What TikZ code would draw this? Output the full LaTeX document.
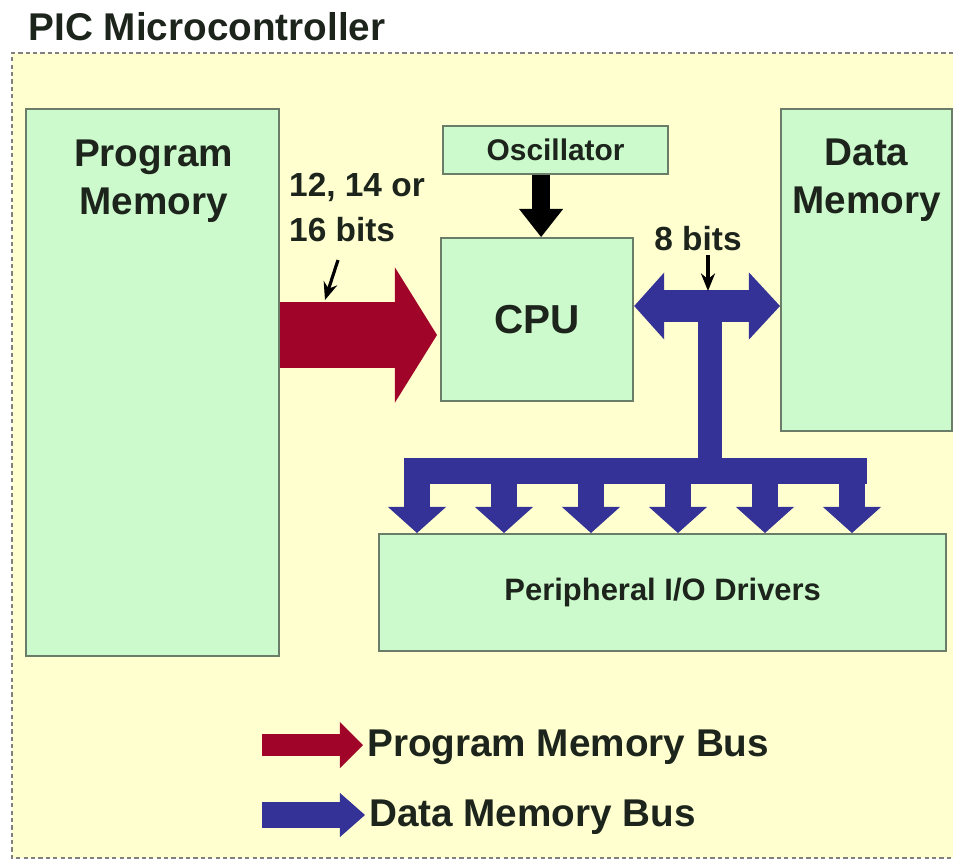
\documentclass[tikz,border=0pt]{standalone}
\usepackage{fontspec}
\setmainfont{Liberation Sans}
\usetikzlibrary{positioning,calc,arrows.meta}

\definecolor{bgyellow}{RGB}{255,255,208}
\definecolor{boxgreen}{RGB}{204,250,204}
\definecolor{boxline}{RGB}{105,125,105}
\definecolor{progred}{RGB}{160,4,40}
\definecolor{datablue}{RGB}{52,50,150}
\definecolor{txtdark}{RGB}{28,36,28}

\tikzset{
  block/.style={draw=boxline,fill=boxgreen,line width=0.6pt,inner sep=0pt,anchor=north west},
  bigtext/.style={font=\bfseries\fontsize{11}{13.7}\selectfont,text=txtdark,align=center,inner sep=1pt},
  smalltext/.style={font=\bfseries\fontsize{9.5}{12.8}\selectfont,text=txtdark,align=left,inner sep=1pt},
  pbus/.style={progred,line width=0.66cm},
  dbus/.style={datablue},
  tick/.style={-{Stealth[length=5pt,width=4pt]},line width=0.9pt,black}
}

\begin{document}
\begin{tikzpicture}[x=0.01cm,y=-0.01cm]
\useasboundingbox (0,0) rectangle (953,860);

% frame
\fill[bgyellow] (12,53) rectangle (953,858);
\draw[gray,line width=0.8pt,dash pattern=on 1.2pt off 0.9pt] (953,53) -- (12,53) -- (12,858) -- (953,858);

\node[font=\bfseries\fontsize{11}{13}\selectfont,text=txtdark,anchor=base west,inner sep=0pt] (title) at (28,40) {PIC Microcontroller};

% blocks
\node[block,minimum width=2.53cm,minimum height=5.47cm] (pm)  at (25,108)  {};
\node[block,minimum width=2.25cm,minimum height=0.48cm,
      font=\bfseries\fontsize{8.5}{10}\selectfont,text=txtdark] (osc) at (442,125) {Oscillator};
\node[block,minimum width=1.92cm,minimum height=1.63cm,
      font=\bfseries\fontsize{11.5}{13}\selectfont,text=txtdark] (cpu) at (440,237) {CPU};
\node[block,minimum width=1.71cm,minimum height=3.22cm] (dm)  at (780,108)  {};
\node[block,minimum width=5.67cm,minimum height=1.17cm,
      font=\bfseries\fontsize{8.8}{10}\selectfont,text=txtdark] (pio) at (378,533) {Peripheral I/O Drivers};

\node[bigtext] (pmname) at ($(pm.north)+(1,73)$) {Program\\Memory};
\node[bigtext] (dmname) at ($(dm.north)+(0,72)$) {Data\\Memory};

% program memory bus
\coordinate (ptip) at (437,335);
\draw[pbus,-{Triangle[length=0.42cm,width=1.35cm,line width=0pt]}] (pm.east |- ptip) -- (ptip);

% clock
\coordinate (clk) at ($(cpu.north)+(4,0)$);
\draw[black,line width=0.18cm,-{Triangle[length=0.28cm,width=0.44cm,line width=0pt]}] (osc.south -| clk) -- (clk);

% data memory bus
\coordinate (dtap) at (710,306);
\coordinate (bus) at (710,471);
\draw[dbus,line width=0.24cm] (dtap) -- (bus);
\draw[dbus,line width=0.26cm] (404,471) -- (867,471);
\foreach \x in {417,504,...,852}
  {\draw[dbus,line width=0.25cm,-{Triangle[length=0.26cm,width=0.58cm,line width=0pt]}] (\x,471) -- (\x,0 |- pio.north);}
\draw[dbus,line width=0.32cm,{Triangle[length=0.30cm,width=0.67cm,line width=0pt]}-{Triangle[length=0.31cm,width=0.67cm,line width=0pt]}]
  (cpu.east |- dtap) -- (dm.west |- dtap);

% bus widths
\node[smalltext,anchor=west] (pwidth) at (285,207) {12, 14 or\\16 bits};
\coordinate (pw) at (325,300);
\draw[tick] ($(pw)+(13,-40)$) -- (pw);
\node[smalltext] (dwidth) at (698,239) {8 bits};
\coordinate (dw) at (708,291);
\draw[tick] (dwidth.south -| dw) -- (dw);

% legend
\node[bigtext,anchor=west] (lgp) at (363,747) {Program Memory Bus};
\node[bigtext,anchor=west] (lgd) at (365,817) {Data Memory Bus};
\coordinate (lp) at (262,745);
\coordinate (ld) at (262,815);
\draw[progred,line width=0.22cm,-{Triangle[length=0.23cm,width=0.46cm,line width=0pt]}] (lp) -- (lgp.west |- lp);
\draw[dbus,line width=0.26cm,-{Triangle[length=0.25cm,width=0.44cm,line width=0pt]}] (ld) -- (lgd.west |- ld);

\end{tikzpicture}
\end{document}
